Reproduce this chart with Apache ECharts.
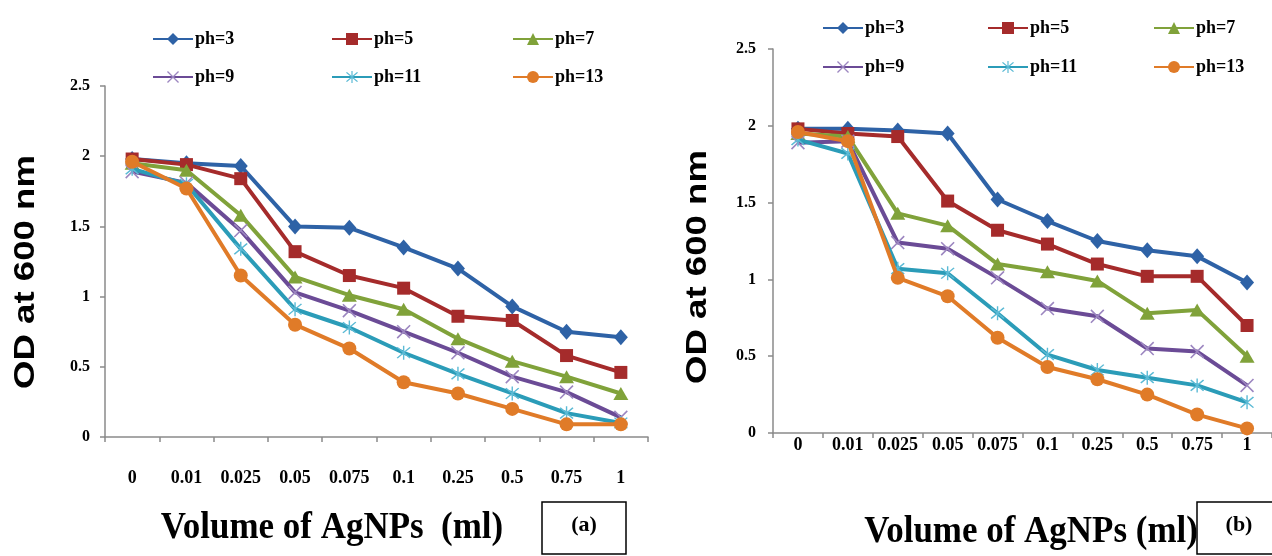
<!DOCTYPE html>
<html>
<head>
<meta charset="utf-8">
<script src="https://cdn.jsdelivr.net/npm/echarts@6/dist/echarts.min.js"></script>
<style>
html,body{margin:0;padding:0;background:#fff;}
#chart{width:1272px;height:556px;}
</style>
</head>
<body>
<div id="chart"></div>
<script>
// ---- data ----
const categories = ['0','0.01','0.025','0.05','0.075','0.1','0.25','0.5','0.75','1'];
const seriesNames = ['ph=3','ph=5','ph=7','ph=9','ph=11','ph=13'];
const yTicks = [0, 0.5, 1, 1.5, 2, 2.5];
// panel (a)
const aPh3  = [1.98,1.95,1.93,1.50,1.49,1.35,1.20,0.93,0.75,0.71];
const aPh5  = [1.98,1.94,1.84,1.32,1.15,1.06,0.86,0.83,0.58,0.46];
const aPh7  = [1.95,1.90,1.58,1.14,1.01,0.91,0.70,0.54,0.43,0.31];
const aPh9  = [1.89,1.81,1.47,1.03,0.90,0.75,0.60,0.43,0.32,0.14];
const aPh11 = [1.91,1.80,1.34,0.91,0.78,0.60,0.45,0.31,0.17,0.10];
const aPh13 = [1.96,1.77,1.15,0.80,0.63,0.39,0.31,0.20,0.09,0.09];
// panel (b)
const bPh3  = [1.98,1.98,1.97,1.95,1.52,1.38,1.25,1.19,1.15,0.98];
const bPh5  = [1.98,1.95,1.93,1.51,1.32,1.23,1.10,1.02,1.02,0.70];
const bPh7  = [1.95,1.93,1.43,1.35,1.10,1.05,0.99,0.78,0.80,0.50];
const bPh9  = [1.89,1.90,1.24,1.20,1.01,0.81,0.76,0.55,0.53,0.31];
const bPh11 = [1.91,1.82,1.07,1.04,0.78,0.51,0.41,0.36,0.31,0.20];
const bPh13 = [1.96,1.90,1.01,0.89,0.62,0.43,0.35,0.25,0.12,0.03];
const xTitle = 'Volume of AgNPs  (ml)';
const xTitleB = 'Volume of AgNPs (ml)';
const yTitle = 'OD at 600 nm';

// ---- styles ----
const colors = ['#2E62A6','#A52B2B','#80A23A','#6B4B96','#2B9CB8','#E07B28'];
const crossPath = 'path://M0,0.8L0.8,0L10,9.2L9.2,10Z M9.2,0L10,0.8L0.8,10L0,9.2Z';
const starPath = 'path://M0,0.8L0.8,0L10,9.2L9.2,10Z M9.2,0L10,0.8L0.8,10L0,9.2Z M4.5,-1L5.5,-1L5.5,11L4.5,11Z';
const symbols = ['diamond','rect','triangle',crossPath,starPath,'circle'];
const symbolSizes = [[14,16],13,[15,13],14,14,14];
const symbolColors = [null,null,null,'#9C86C0','#5BBAD5',null];

const serif = 'Liberation Serif';
const dataA = [aPh3,aPh5,aPh7,aPh9,aPh11,aPh13];
const dataB = [bPh3,bPh5,bPh7,bPh9,bPh11,bPh13];

function axisPair(idx, labelMargin, xFont, yMargin){
  const x = {
    type:'category', gridIndex:idx, data:categories, boundaryGap:true,
    axisLine:{lineStyle:{color:'#8a8a8a',width:1.5}},
    axisTick:{show:true,alignWithLabel:false,length:5,lineStyle:{color:'#8a8a8a',width:1.5}},
    axisLabel:{interval:0,margin:labelMargin,color:'#000',fontFamily:serif,fontWeight:'bold',fontSize:xFont}
  };
  const y = {
    type:'value', gridIndex:idx, min:yTicks[0], max:yTicks[yTicks.length-1], interval:0.5,
    splitLine:{show:false},
    axisLine:{show:true,lineStyle:{color:'#8a8a8a',width:1.5}},
    axisTick:{show:true,length:5,lineStyle:{color:'#8a8a8a',width:1.5}},
    axisLabel:{margin:yMargin,color:'#000',fontFamily:serif,fontWeight:'bold',fontSize:16}
  };
  return [x,y];
}
const [xa,ya] = axisPair(0, 32, 18, 15);
const [xb,yb] = axisPair(1, 3, 18, 17);

const series = [];
[dataA,dataB].forEach((set,g)=>{
  set.forEach((vals,i)=>{
    series.push({
      name:seriesNames[i], type:'line', xAxisIndex:g, yAxisIndex:g, data:vals,
      symbol:symbols[i], symbolSize:symbolSizes[i],
      lineStyle:{color:colors[i],width:4},
      itemStyle:{color:symbolColors[i]||colors[i]},
      color:colors[i], z:2+i
    });
  });
});

const legendPos = [
  {n:0,left:152,top:30},{n:1,left:331,top:30},{n:2,left:512,top:30},
  {n:3,left:152,top:68},{n:4,left:331,top:68},{n:5,left:512,top:68},
  {n:0,left:822,top:19},{n:1,left:987,top:19},{n:2,left:1153,top:19},
  {n:3,left:822,top:58},{n:4,left:987,top:58},{n:5,left:1153,top:58}
];
const legends = legendPos.map(p=>({
  data:[seriesNames[p.n]], left:p.left, top:p.top, padding:0, itemGap:0,
  itemWidth:40, itemHeight:15, selectedMode:false,
  textStyle:{fontFamily:serif,fontWeight:'bold',fontSize:18,color:'#000',padding:[0,0,0,-3]}
}));

const chart = echarts.init(document.getElementById('chart'));
chart.setOption({
  animation:false,
  backgroundColor:'#fff',
  legend:legends,
  grid:[
    {left:105, top:86, width:543, height:351},
    {left:773, top:49, width:500, height:384}
  ],
  xAxis:[xa,xb],
  yAxis:[ya,yb],
  series:series,
  graphic:[
    {type:'text', x:26, y:272, rotation:Math.PI/2, scaleX:1.22,
     style:{text:yTitle, font:'bold 30px "Liberation Sans"', fill:'#000', align:'center', verticalAlign:'middle'}},
    {type:'text', x:698, y:267, rotation:Math.PI/2, scaleX:1.22,
     style:{text:yTitle, font:'bold 30px "Liberation Sans"', fill:'#000', align:'center', verticalAlign:'middle'}},
    {type:'text', x:332, y:528, scaleX:0.92,
     style:{text:xTitle, font:'bold 38px "Liberation Serif"', fill:'#000', align:'center', verticalAlign:'middle'}},
    {type:'text', x:1031, y:532, scaleX:0.92,
     style:{text:xTitleB, font:'bold 38px "Liberation Serif"', fill:'#000', align:'center', verticalAlign:'middle'}},
    {type:'rect', shape:{x:542,y:502,width:84,height:52}, style:{fill:'none',stroke:'#000',lineWidth:1.5}},
    {type:'text', x:584, y:525, style:{text:'(a)', font:'bold 22px "Liberation Serif"', fill:'#000', align:'center', verticalAlign:'middle'}},
    {type:'rect', shape:{x:1197,y:502,width:90,height:52}, style:{fill:'none',stroke:'#000',lineWidth:1.5}},
    {type:'text', x:1239, y:525, style:{text:'(b)', font:'bold 22px "Liberation Serif"', fill:'#000', align:'center', verticalAlign:'middle'}}
  ]
});
</script>
</body>
</html>
